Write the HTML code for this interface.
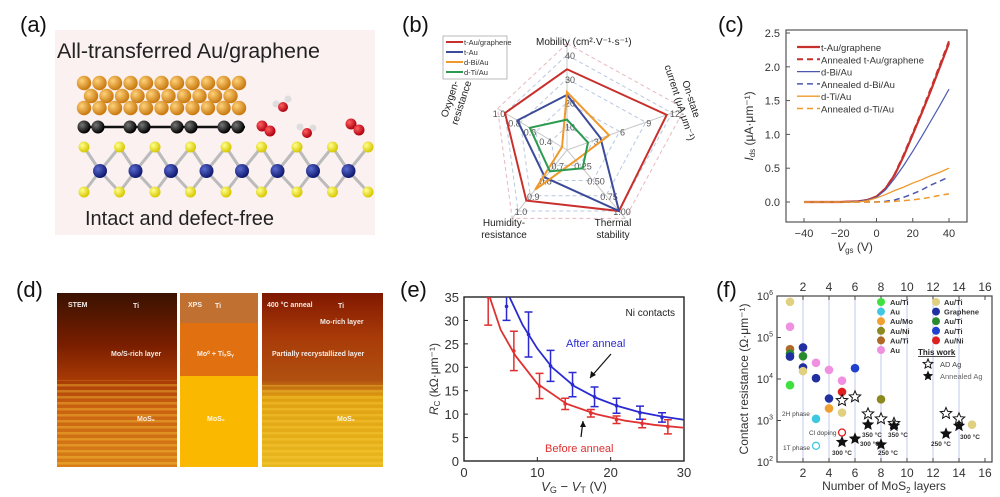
<!DOCTYPE html>
<html><head><meta charset="utf-8"><style>
body{margin:0;background:#fff;width:1000px;height:497px;overflow:hidden;font-family:"Liberation Sans",sans-serif}
svg{display:block}
text{font-family:"Liberation Sans",sans-serif}
</style></head><body>
<svg id="fig" width="1000" height="497" viewBox="0 0 1000 497">
<defs>
<radialGradient id="gAu" cx="35%" cy="35%" r="65%"><stop offset="0" stop-color="#ffd27a"/><stop offset="1" stop-color="#c97a10"/></radialGradient>
<radialGradient id="gC" cx="35%" cy="35%" r="65%"><stop offset="0" stop-color="#777"/><stop offset="1" stop-color="#000"/></radialGradient>
<radialGradient id="gS" cx="35%" cy="35%" r="65%"><stop offset="0" stop-color="#ffff90"/><stop offset="1" stop-color="#d8c800"/></radialGradient>
<radialGradient id="gMo" cx="35%" cy="35%" r="65%"><stop offset="0" stop-color="#5a6ad0"/><stop offset="1" stop-color="#101a70"/></radialGradient>
<radialGradient id="gO" cx="35%" cy="35%" r="65%"><stop offset="0" stop-color="#ff6060"/><stop offset="1" stop-color="#b00010"/></radialGradient>
<linearGradient id="d1" x1="0" y1="0" x2="0" y2="1"><stop offset="0" stop-color="#3a1200"/><stop offset="0.3" stop-color="#7a1e00"/><stop offset="0.5" stop-color="#a83a05"/><stop offset="0.65" stop-color="#c86010"/><stop offset="1" stop-color="#d88018"/></linearGradient>
<linearGradient id="d3" x1="0" y1="0" x2="0" y2="1"><stop offset="0" stop-color="#801800"/><stop offset="0.25" stop-color="#a83a08"/><stop offset="0.5" stop-color="#b05010"/><stop offset="0.6" stop-color="#e0a010"/><stop offset="1" stop-color="#e8b820"/></linearGradient>
<pattern id="stripes" width="8" height="6" patternUnits="userSpaceOnUse"><rect width="8" height="2.5" fill="#ffd040" opacity="0.35"/></pattern>
</defs>

<g font-size="22" fill="#111">
<text x="20" y="32">(a)</text>
<text x="402" y="32">(b)</text>
<text x="718" y="32">(c)</text>
<text x="16" y="297">(d)</text>
<text x="400" y="297">(e)</text>
<text x="716" y="297">(f)</text>
</g>

<g id="pa">
<rect x="55" y="30" width="320" height="205" fill="#fbf1f1"/>
<text x="57" y="58" font-size="21.5" fill="#222">All-transferred Au/graphene</text>
<text x="85" y="225" font-size="20" fill="#222">Intact and defect-free</text>
<line x1="83" y1="127" x2="245" y2="127" stroke="#111" stroke-width="2.5"/>
<g id="atoms"></g>
</g>

<g id="pb"></g>
<g id="pc"></g>

<g id="pd">
<rect x="57" y="293" width="120" height="174" fill="url(#d1)"/>
<rect x="57" y="380" width="120" height="87" fill="url(#stripes)"/>
<rect x="180" y="293" width="78" height="30" fill="#c07030"/>
<rect x="180" y="323" width="78" height="53" fill="#e07010"/>
<rect x="180" y="376" width="78" height="91" fill="#fbb800"/>
<rect x="262" y="293" width="121" height="174" fill="url(#d3)"/>
<rect x="262" y="385" width="121" height="82" fill="url(#stripes)"/>
<g font-size="7" font-weight="bold" fill="#fff" opacity="0.9">
<text x="68" y="307">STEM</text><text x="133" y="308">Ti</text>
<text x="111" y="356">Mo/S-rich layer</text><text x="137" y="421">MoS₂</text>
<text x="188" y="307">XPS</text><text x="215" y="308">Ti</text>
<text x="197" y="356">Mo⁰ + TiₓSᵧ</text><text x="207" y="421">MoS₂</text>
<text x="267" y="307">400 °C anneal</text><text x="338" y="308">Ti</text>
<text x="320" y="324">Mo-rich layer</text>
<text x="272" y="356">Partially recrystallized layer</text><text x="337" y="421">MoS₂</text>
</g>
</g>

<g id="pe"></g>
<g id="pf"></g>
</svg>
<script>
const NS="http://www.w3.org/2000/svg";
function mk(p,t,a,txt){const e=document.createElementNS(NS,t);for(const k in a)e.setAttribute(k,a[k]);if(txt!=null)e.textContent=txt;p.appendChild(e);return e;}

const at=document.getElementById('atoms');
for(let r=0;r<3;r++){const y=[83,96,108][r];const off=r==1?7:0;const n=r==1?10:11;
 for(let i=0;i<n;i++){const c=mk(at,'circle',{cx:84+off+i*15.5,cy:y,r:7.2,fill:'url(#gAu)'});}}
[84,98,130,144,177,191,224,238].forEach(x=>{const c=mk(at,'circle',{cx:x,cy:127,r:6.5,fill:'url(#gC)'});});
for(let i=0;i<8;i++){const mx=100+i*35.5;
 [[mx-16,147],[mx+19.5,147],[mx-16,192],[mx+19.5,192]].forEach(p=>mk(at,'line',{x1:mx,y1:171,x2:p[0],y2:p[1],stroke:'#bbb','stroke-width':3}));}
for(let i=0;i<10;i++){const x=84+i*35.5;if(x>375)break;
 [147,192].forEach(y=>{const c=mk(at,'circle',{cx:x,cy:y,r:5.5,fill:'url(#gS)'});});}
for(let i=0;i<8;i++){const c=mk(at,'circle',{cx:100+i*35.5,cy:171,r:7,fill:'url(#gMo)'});}
[[262,126],[270,131],[351,124],[359,130]].forEach(p=>mk(at,'circle',{cx:p[0],cy:p[1],r:5.5,fill:'url(#gO)'}));
[[283,107,276,104,288,99],[307,133,300,127,313,128]].forEach(p=>{mk(at,'circle',{cx:p[2],cy:p[3],r:3.5,fill:'#ddd'});mk(at,'circle',{cx:p[4],cy:p[5],r:3.5,fill:'#ddd'});mk(at,'circle',{cx:p[0],cy:p[1],r:5,fill:'url(#gO)'});});

const radarAxes=['Mobility','On-state current','Thermal stability','Humidity-resistance','Oxygen-resistance'];
const radarRed=[0.85,0.95,1.0,0.83,1.0];
const radarBlue=[0.58,0.32,1.0,0.45,0.8];
const radarOrange=[0.61,0.4,0.17,0.65,0.08];
const radarGreen=[0.32,0.2,0.3,0.35,0.6];
const radarTicks=[['10','20','30','40'],['3','6','9','12'],['0.25','0.50','0.75','1.00'],['0.7','0.8','0.9','1.0'],['0.4','0.6','0.8','1.0']];
(function(){
 const g=document.getElementById('pb');const C=[567,150];
 const V=[[567,55],[672,113],[619,211],[518,211],[505,113]];
 const pt=(i,f)=>[C[0]+(V[i][0]-C[0])*f,C[1]+(V[i][1]-C[1])*f];
 [0.25,0.5,0.75,1,1.12].forEach(f=>{const p=V.map((v,i)=>pt(i,f).join(',')).join(' ');mk(g,'polygon',{points:p,fill:'none',stroke:f>1?'#e8b8c0':'#b8c8e0','stroke-width':1,'stroke-dasharray':'4,3'});});
 V.forEach((v,i)=>{mk(g,'line',{x1:C[0],y1:C[1],x2:pt(i,1.12)[0],y2:pt(i,1.12)[1],stroke:'#c8c8c8','stroke-width':1});});
 radarTicks.forEach((ts,i)=>ts.forEach((t,j)=>{const p=pt(i,(j+1)/4);const e=mk(g,'text',{x:p[0]+(i==4?-6:3),y:p[1]+4,'font-size':9,fill:'#555','text-anchor':'middle'},t);}));
 [[radarRed,'#c8302c'],[radarBlue,'#3c4a9a'],[radarOrange,'#f0982a'],[radarGreen,'#2c9a50']].forEach((s,k)=>{
  const p=s[0].map((f,i)=>pt(i,f).join(',')).join(' ');const e=mk(g,'polygon',{points:p,fill:'none',stroke:s[1],'stroke-width':2});
  });
 const L=mk(g,'g',{});
 mk(L,'rect',{x:443,y:36,width:64,height:43,fill:'#fff',stroke:'#aaa','stroke-width':0.8});
 [['t-Au/graphene','#c8302c'],['t-Au','#3c4a9a'],['d-Bi/Au','#f0982a'],['d-Ti/Au','#2c9a50']].forEach((l,i)=>{const y=42+i*10;
  mk(L,'line',{x1:446,y1:y,x2:463,y2:y,stroke:l[1],'stroke-width':2});mk(L,'text',{x:464,y:y+3,'font-size':7.5,fill:'#333'},l[0]);});
 mk(g,'text',{x:536,y:45,'font-size':10,fill:'#222'},'Mobility (cm²·V⁻¹·s⁻¹)');
 const t1=mk(g,'text',{x:0,y:0,'font-size':10,fill:'#222',transform:'translate(688,100) rotate(72)','text-anchor':'middle'});
 mk(t1,'tspan',{x:0,dy:0},'On-state');mk(t1,'tspan',{x:0,dy:12},'current (μA·μm⁻¹)');
 mk(g,'text',{x:613,y:226,'font-size':10,fill:'#222','text-anchor':'middle'},'Thermal');
 mk(g,'text',{x:613,y:238,'font-size':10,fill:'#222','text-anchor':'middle'},'stability');
 mk(g,'text',{x:504,y:226,'font-size':10,fill:'#222','text-anchor':'middle'},'Humidity-');
 mk(g,'text',{x:504,y:238,'font-size':10,fill:'#222','text-anchor':'middle'},'resistance');
 const t2=mk(g,'text',{x:0,y:0,'font-size':10,fill:'#222',transform:'translate(453,100) rotate(-72)','text-anchor':'middle'});
 mk(t2,'tspan',{x:0,dy:0},'Oxygen-');mk(t2,'tspan',{x:0,dy:12},'resistance');
})();

const cVg=[-40,-20,-10,-5,0,5,10,15,20,25,30,35,40];
const cTAuG=[0,0,0.01,0.03,0.08,0.2,0.4,0.68,1.0,1.32,1.65,2.0,2.35];
const cTAuGAnn=[0,0,0.01,0.03,0.08,0.2,0.41,0.7,1.02,1.34,1.68,2.03,2.38];
const cBi=[0,0,0.01,0.03,0.07,0.18,0.35,0.54,0.75,0.97,1.2,1.43,1.67];
const cBiAnn=[0,0,0,0,0,0.01,0.03,0.07,0.12,0.18,0.25,0.31,0.37];
const cTi=[0,0,0,0.02,0.06,0.11,0.17,0.22,0.28,0.33,0.39,0.44,0.5];
const cTiAnn=[0,0,0,0,0,0,0.01,0.02,0.03,0.05,0.07,0.1,0.12];
const cXTicks=[-40,-20,0,20,40];const cYTicks=['0.0','0.5','1.0','1.5','2.0','2.5'];
(function(){
 const g=document.getElementById('pc');
 const X=v=>804+(v+40)*(949-804)/80, Y=v=>202-v*(202-33)/2.5;
 mk(g,'rect',{x:786,y:30,width:181,height:192,fill:'none',stroke:'#555','stroke-width':1.2});
 cXTicks.forEach(t=>{mk(g,'line',{x1:X(t),y1:222,x2:X(t),y2:218,stroke:'#555'});const e=mk(g,'text',{x:X(t),y:237,'font-size':11,'text-anchor':'middle',fill:'#333'},t<0?'−'+(-t):t);});
 cYTicks.forEach(t=>{const y=Y(+t);mk(g,'line',{x1:786,y1:y,x2:790,y2:y,stroke:'#555'});const e=mk(g,'text',{x:780,y:y+4,'font-size':11,'text-anchor':'end',fill:'#333'},t);});
 const tx=mk(g,'text',{x:855,y:251,'font-size':12,'text-anchor':'middle',fill:'#333'});mk(tx,'tspan',{'font-style':'italic'},'V');mk(tx,'tspan',{'font-size':8,dy:2},'gs');mk(tx,'tspan',{dy:-2},' (V)');
 const ty=mk(g,'text',{x:0,y:0,'font-size':12,'text-anchor':'middle',fill:'#333',transform:'translate(753,126) rotate(-90)'});mk(ty,'tspan',{'font-style':'italic'},'I');mk(ty,'tspan',{'font-size':8,dy:2},'ds');mk(ty,'tspan',{dy:-2},' (μA·μm⁻¹)');
 const S=[[cTAuG,'#c8302c',2.2,null,'t-Au/graphene'],[cTAuGAnn,'#c8302c',2,'6,4','Annealed t-Au/graphene'],[cBi,'#4a58b0',1.2,null,'d-Bi/Au'],[cBiAnn,'#4a58b0',1.5,'6,4','Annealed d-Bi/Au'],[cTi,'#f0982a',1.3,null,'d-Ti/Au'],[cTiAnn,'#f0982a',1.5,'6,4','Annealed d-Ti/Au']];
 S.forEach((s,k)=>{const d=cVg.map((v,i)=>(i?'L':'M')+X(v)+','+Y(s[0][i])).join('');const a={d:d,fill:'none',stroke:s[1],'stroke-width':s[2]};if(s[3])a['stroke-dasharray']=s[3];const e=mk(g,'path',a);
  const y=47+k*12.3;const la={x1:797,y1:y,x2:820,y2:y,stroke:s[1],'stroke-width':s[2]};if(s[3])la['stroke-dasharray']=s[3];mk(g,'line',la);const t=mk(g,'text',{x:821,y:y+4,'font-size':9.5,fill:'#333'},s[4]);});
})();

const eBeforeX=[3.3,6.8,10.3,13.8,17.3,20.8,24.3,27.8];
const eBeforeY=[35,23.5,16,12.2,10.2,8.8,8,7.3];
const eBeforeErr=[6,4.2,2.7,1.2,0.8,0.8,0.9,1.5];
const eAfterX=[5.8,8.8,11.8,14.8,17.8,20.8,24,27];
const eAfterY=[33,27,20.3,16.3,13.7,11.8,10.3,9.3];
const eAfterErr=[3,4.8,3.3,2.6,2.1,1.6,1.4,1];
const eFitBX=[3.5,5,7,10,14,18,22,26,30];const eFitBY=[35,28,22.5,16.5,12.2,10,8.6,7.7,7.1];
const eFitAX=[6.2,8,10,12,15,18,21,24,27,30];const eFitAY=[35,29,24,20,16,13.5,11.7,10.4,9.5,8.8];
const eXTicks=[0,10,20,30];const eYTicks=[0,5,10,15,20,25,30,35];
(function(){
 const g=document.getElementById('pe');
 const X=v=>464+v*(684-464)/30, Y=v=>461-v*(461-297)/35;
 mk(g,'defs',{}).innerHTML='<clipPath id="ce"><rect x="464" y="297" width="220" height="164"/></clipPath>';
 mk(g,'rect',{x:464,y:297,width:220,height:164,fill:'none',stroke:'#222','stroke-width':1.4});
 eXTicks.forEach(t=>{mk(g,'line',{x1:X(t),y1:461,x2:X(t),y2:457,stroke:'#222'});const e=mk(g,'text',{x:X(t),y:477,'font-size':13,'text-anchor':'middle',fill:'#333'},t);});
 eYTicks.forEach(t=>{mk(g,'line',{x1:464,y1:Y(t),x2:468,y2:Y(t),stroke:'#222'});const e=mk(g,'text',{x:459,y:Y(t)+5,'font-size':13,'text-anchor':'end',fill:'#333'},t);});
 const cg=mk(g,'g',{'clip-path':'url(#ce)'});
 [[eFitBX,eFitBY,eBeforeX,eBeforeY,eBeforeErr,'#e03030','before'],[eFitAX,eFitAY,eAfterX,eAfterY,eAfterErr,'#2a2ad0','after']].forEach(s=>{
  const e=mk(cg,'path',{d:s[0].map((v,i)=>(i?'L':'M')+X(v)+','+Y(s[1][i])).join(''),fill:'none',stroke:s[5],'stroke-width':1.8});
  s[2].forEach((x,i)=>{const px=X(x),y1=Y(s[3][i]-s[4][i]),y2=Y(s[3][i]+s[4][i]);const b=mk(cg,'path',{d:`M${px},${y1}V${y2}M${px-4},${y1}h8M${px-4},${y2}h8`,stroke:s[5],'stroke-width':1.5,fill:'none'});mk(cg,'circle',{cx:px,cy:Y(s[3][i]),r:1.8,fill:s[5]});});});
 mk(g,'text',{x:675,y:316,'font-size':10,'text-anchor':'end',fill:'#222'},'Ni contacts');
 mk(g,'text',{x:566,y:347,'font-size':11,fill:'#2a2ad0'},'After anneal');
 mk(g,'text',{x:545,y:452,'font-size':11,fill:'#e03030'},'Before anneal');
 mk(g,'path',{d:'M611,354L590,378',stroke:'#111','stroke-width':1.2});mk(g,'path',{d:'M590,378l1,-7l5,4z',fill:'#111'});
 mk(g,'path',{d:'M581,437L583,421',stroke:'#111','stroke-width':1.2});mk(g,'path',{d:'M583,421l-3,6l6,0z',fill:'#111'});
 const tx=mk(g,'text',{x:574,y:491,'font-size':13,'text-anchor':'middle',fill:'#333'});mk(tx,'tspan',{'font-style':'italic'},'V');mk(tx,'tspan',{'font-size':9,dy:2},'G');mk(tx,'tspan',{dy:-2},' − ');mk(tx,'tspan',{'font-style':'italic'},'V');mk(tx,'tspan',{'font-size':9,dy:2},'T');mk(tx,'tspan',{dy:-2},' (V)');
 const ty=mk(g,'text',{x:0,y:0,'font-size':12,'text-anchor':'middle',fill:'#333',transform:'translate(438,379) rotate(-90)'});mk(ty,'tspan',{'font-style':'italic'},'R');mk(ty,'tspan',{'font-size':8,dy:2},'C');mk(ty,'tspan',{dy:-2},' (kΩ·μm⁻¹)');
})();

const fDotX=[1,1,1,1,1,1,2,2,2,2,3,3,3,3,4,4,4,5,5,5,5,6,8,15];
const fDotLog=[5.86,5.26,4.72,4.61,4.54,3.85,4.76,4.55,4.28,4.19,4.39,4.02,3.04,2.39,4.22,3.53,3.29,3.96,3.69,3.19,2.71,4.26,3.51,2.9];
const fDotColor=['#e0d080','#f090e0','#b06a28','#2a8a30','#2030a0','#40e040','#2030a0','#2a8a30','#2030a0','#e0d080','#f090e0','#2030a0','#40c8e0','open:#40c8e0','#f090e0','#2030a0','#f0a030','#f090e0','#e02020','#e0d080','open:#e02020','#2040d0','#8a8a20','#e0d080'];
const fOpenStarX=[5,6,7,8,9,13,14];const fOpenStarLog=[3.48,3.57,3.16,3.04,2.93,3.17,3.04];
const fStarX=[5,6,7,8,9,13,14];const fStarLog=[2.48,2.56,2.9,2.42,2.87,2.68,2.87];
const fXTicks=[2,4,6,8,10,12,14,16];const fYTicks=[2,3,4,5,6];
(function(){
 const g=document.getElementById('pf');
 const X=v=>777+v*13.0, Y=v=>462-(v-2)*41.5;
 fXTicks.forEach(t=>{if(t<16)mk(g,'line',{x1:X(t),y1:296,x2:X(t),y2:462,stroke:'#c0c8ee','stroke-width':1});});
 mk(g,'rect',{x:777,y:296,width:215,height:166,fill:'none',stroke:'#444','stroke-width':1.2});
 fXTicks.forEach(t=>{[[462,458],[296,300]].forEach(a=>mk(g,'line',{x1:X(t),y1:a[0],x2:X(t),y2:a[1],stroke:'#444'}));
  const e=mk(g,'text',{x:X(t),y:477,'font-size':12,'text-anchor':'middle',fill:'#333'},t);
  const e2=mk(g,'text',{x:X(t),y:291,'font-size':12,'text-anchor':'middle',fill:'#333'},t);});
 fYTicks.forEach(t=>{mk(g,'line',{x1:777,y1:Y(t),x2:781,y2:Y(t),stroke:'#444'});const e=mk(g,'text',{x:773,y:Y(t)+4,'font-size':11,'text-anchor':'end',fill:'#333'});mk(e,'tspan',{},'10');mk(e,'tspan',{'font-size':7,dy:-5},t);});
 fDotX.forEach((x,i)=>{const c=fDotColor[i];const open=c.startsWith('open:');const col=open?c.slice(5):c;
  const e=mk(g,'circle',{cx:X(x),cy:Y(fDotLog[i]),r:open?3.5:4.3,fill:open?'#fff':col,stroke:col,'stroke-width':open?1.3:0});});
 const star=(cx,cy,r,open)=>{let d='';for(let k=0;k<10;k++){const a=-Math.PI/2+k*Math.PI/5,rr=k%2?r*0.45:r;d+=(k?'L':'M')+(cx+rr*Math.cos(a)).toFixed(1)+','+(cy+rr*Math.sin(a)).toFixed(1);}return mk(g,'path',{d:d+'Z',fill:open?'#fff':'#111',stroke:'#111','stroke-width':open?1:0});};
 fOpenStarX.forEach((x,i)=>{const e=star(X(x),Y(fOpenStarLog[i]),6,true);});
 fStarX.forEach((x,i)=>{const e=star(X(x),Y(fStarLog[i]),6.5,false);});
 const leg=[['Au/Ti','#40e040'],['Au','#40c8e0'],['Au/Mo','#f0a030'],['Au/Ni','#8a8a20'],['Au/Ti','#b06a28'],['Au','#f090e0']];
 const leg2=[['Au/Ti','#e0d080'],['Graphene','#2030a0'],['Au/Ti','#2a8a30'],['Au/Ti','#2040d0'],['Au/Ni','#e02020']];
 leg.forEach((l,i)=>{const y=302+i*9.6;mk(g,'circle',{cx:881,cy:y,r:4,fill:l[1]});const t=mk(g,'text',{x:890,y:y+3,'font-size':7.5,'font-weight':'bold',fill:'#333'},l[0]);});
 leg2.forEach((l,i)=>{const y=302+i*9.6;mk(g,'circle',{cx:936,cy:y,r:4,fill:l[1]});const t=mk(g,'text',{x:944,y:y+3,'font-size':7.5,'font-weight':'bold',fill:'#333'},l[0]);});
 mk(g,'text',{x:918,y:355,'font-size':8,'font-weight':'bold',fill:'#222','text-decoration':'underline'},'This work');
 star(928,364,5,true);mk(g,'text',{x:940,y:367,'font-size':7.5,fill:'#444'},'AD Ag');
 star(928,376,5.5,false);mk(g,'text',{x:940,y:379,'font-size':7.5,fill:'#666'},'Annealed Ag');
 [['2H phase',782,416],['Cl doping',809,435],['1T phase',783,450]].forEach(a=>mk(g,'text',{x:a[1],y:a[2],'font-size':6.5,fill:'#444'},a[0]));
 [['300 °C',832,455],['300 °C',860,446],['350 °C',862,437],['350 °C',888,437],['250 °C',878,455],['250 °C',931,446],['300 °C',960,439]].forEach(a=>mk(g,'text',{x:a[1],y:a[2],'font-size':6.5,'font-weight':'bold',fill:'#333'},a[0]));
 const tx=mk(g,'text',{x:884,y:490,'font-size':12,'text-anchor':'middle',fill:'#333'});mk(tx,'tspan',{},'Number of MoS');mk(tx,'tspan',{'font-size':8,dy:3},'2');mk(tx,'tspan',{dy:-3},' layers');
 mk(g,'text',{x:0,y:0,'font-size':12,'text-anchor':'middle',fill:'#333',transform:'translate(748,379) rotate(-90)'},'Contact resistance (Ω·μm⁻¹)');
})();
</script>
</body></html>
